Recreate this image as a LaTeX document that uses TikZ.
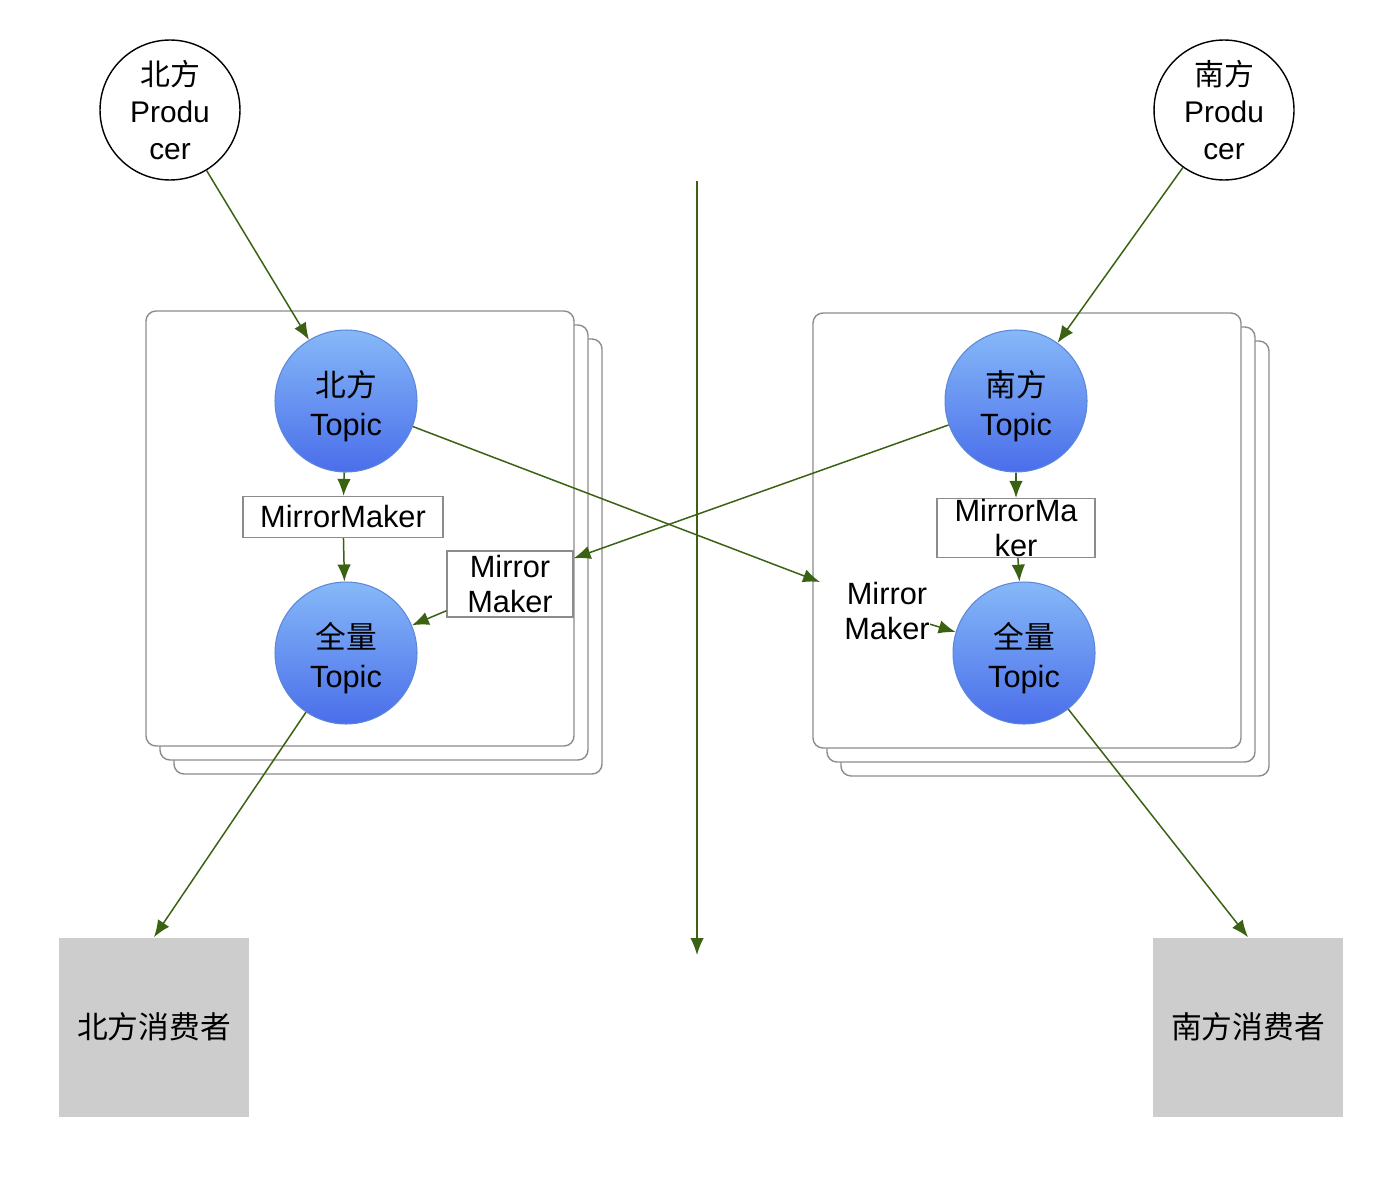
\documentclass[tikz,border=0pt]{standalone}
\usepackage{fontspec}
\setmainfont{Liberation Sans}
\newfontfamily\cjk{Noto Sans CJK SC}
\usetikzlibrary{arrows.meta,positioning}
\definecolor{ArrowGreen}{HTML}{3B6213}
\definecolor{TopicTop}{HTML}{86B8F8}
\definecolor{TopicBottom}{HTML}{4A6EEA}
\definecolor{TopicRim}{HTML}{5B88D8}
\definecolor{BoxRule}{HTML}{8C8C8C}
\definecolor{ConsumerGray}{HTML}{CDCDCD}

\begin{document}
\begin{tikzpicture}[x=0.02cm,y=-0.02cm,
  prod/.style={draw=black,circle,line width=0.8pt,fill=white,minimum size=2.8cm,inner sep=0pt,align=center,font=\fontsize{17}{21}\selectfont},
  topic/.style={circle,draw=TopicRim,line width=0.6pt,top color=TopicTop,bottom color=TopicBottom,minimum size=2.84cm,inner sep=0pt,text height=43pt,align=center,font=\fontsize{17.5}{22}\selectfont},
  mmbox/.style={draw=BoxRule,line width=0.7pt,fill=white,inner sep=0pt,align=center,font=\fontsize{17.5}{19.5}\selectfont},
  panel/.style={draw=BoxRule,line width=0.8pt,fill=white,rounded corners=2mm},
  cons/.style={fill=ConsumerGray,minimum width=3.8cm,minimum height=3.58cm,font=\cjk\fontsize{17.5}{20}\selectfont},
  edge/.style={-{Latex[length=3.4mm,width=2.7mm]},draw=ArrowGreen,line width=0.85pt}
]
\useasboundingbox (0,0) rectangle (1388,1176);

% stacked data centres
\foreach \d in {28,14,0}{
  \draw[panel] (146+\d,311+\d) rectangle (574+\d,746+\d);
  \draw[panel] (813+\d,313+\d) rectangle (1241+\d,748+\d);
}

% north side
\node[prod] (np) at (170,110) {{\cjk 北方}\\Produ\\cer};
\node[topic] (nt) at (346,401) {{\cjk 北方}\\Topic};
\node[mmbox,minimum width=4cm,minimum height=0.82cm] (nmm) at (343,517) {MirrorMaker};
\node[mmbox,minimum width=2.52cm,minimum height=1.32cm] (nx) at (510,584) {Mirror\\Maker};
\node[topic] (na) at (346,653) {{\cjk 全量}\\Topic};
\node[cons] (nc) at (154,1027) {北方消费者};

% south side
\node[prod] (sp) at (1224,110) {{\cjk 南方}\\Produ\\cer};
\node[topic] (st) at (1016,401) {{\cjk 南方}\\Topic};
\node[mmbox,minimum width=3.16cm,minimum height=1.18cm] (smm) at (1016,528) {MirrorMa\\ker};
\node[align=center,inner sep=0pt,font=\fontsize{17.5}{19.5}\selectfont] (sx) at (887,611) {Mirror\\Maker};
\node[topic] (sa) at (1024,653) {{\cjk 全量}\\Topic};
\node[cons] (sc) at (1248,1027) {南方消费者};

\coordinate (sin) at (820,582);
\coordinate (dtop) at (697,181);
\coordinate (dbot) at (697,955);

\draw[edge] (dtop) -- (dbot);
\draw[edge] (np) -- (nt);
\draw[edge] (nt) -- (nmm);
\draw[edge] (nmm) -- (na);
\draw[edge] (nx) -- (na);
\draw[edge] (na) -- (nc.north);
\draw[edge] (sp) -- (st);
\draw[edge] (st) -- (smm);
\draw[edge] (smm) -- (sa);
\draw[edge] (sx) -- (sa);
\draw[edge] (sa) -- (sc.north);
\draw[edge] (nt) -- (sin);
\draw[edge] (st) -- (nx.22);
\end{tikzpicture}
\end{document}
